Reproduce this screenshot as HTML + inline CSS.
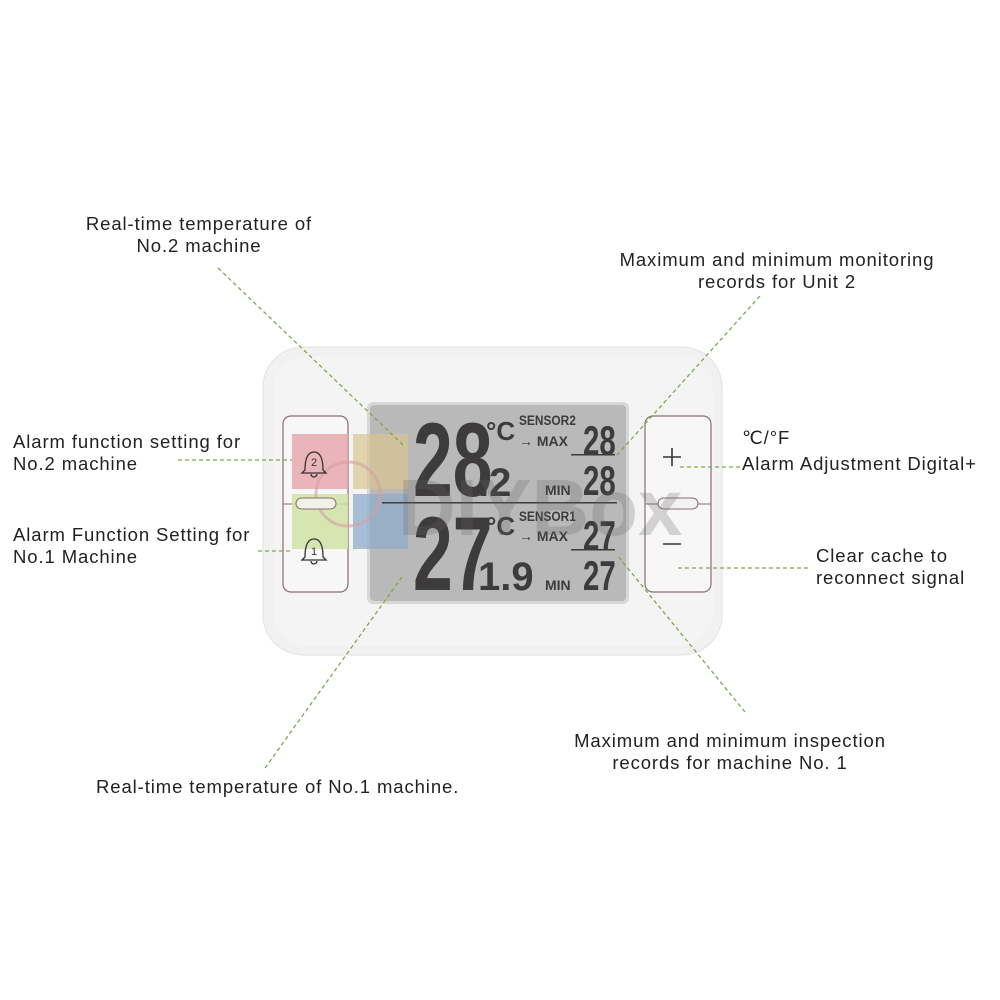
<!DOCTYPE html>
<html><head><meta charset="utf-8"><style>
html,body{margin:0;padding:0;background:#fff;width:1000px;height:1000px;overflow:hidden}
svg{display:block}
text{font-family:"Liberation Sans",sans-serif}
</style></head><body>
<svg width="1000" height="1000" viewBox="0 0 1000 1000">
<!-- device -->
<rect x="263" y="347" width="459" height="308" rx="40" fill="#f1f1f1" stroke="#e2e2e2"/>
<rect x="273" y="356" width="440" height="290" rx="34" fill="#f4f4f4"/>
<!-- buttons -->
<rect x="283" y="416" width="65" height="176" rx="8" fill="#f7f7f7" stroke="#8a6f6f" stroke-width="1.2"/>
<rect x="645" y="416" width="66" height="176" rx="8" fill="#f7f7f7" stroke="#8a6f6f" stroke-width="1.2"/>
<line x1="283" y1="504" x2="348" y2="504" stroke="#8a6f6f"/>
<line x1="645" y1="504" x2="711" y2="504" stroke="#8a6f6f"/>
<!-- LCD -->
<rect x="367" y="402" width="262" height="202" rx="6" fill="#d8d8d8"/>
<rect x="370" y="405" width="256" height="196" rx="4" fill="#b9b9b9"/>
<!-- watermark squares -->
<rect x="292" y="434" width="56" height="55" fill="#e8a8ad" opacity="0.85"/>
<rect x="353" y="434" width="55" height="55" fill="#d9c48e" opacity="0.7"/>
<rect x="292" y="494" width="56" height="55" fill="#cfe3a4" opacity="0.85"/>
<rect x="353" y="494" width="55" height="55" fill="#8eacc9" opacity="0.75"/>
<circle cx="348" cy="494" r="32" fill="none" stroke="#d6a0a0" stroke-width="3" opacity="0.6"/>
<rect x="296" y="498" width="40" height="11" rx="5.5" fill="#f2f2e8" stroke="#8a6f6f"/>
<rect x="658" y="498" width="40" height="11" rx="5.5" fill="#f2f2f2" stroke="#8a6f6f"/>
<!-- LCD digits -->
<g fill="#3d3b3b">
<text x="413" y="496" font-size="105" font-weight="bold" transform="translate(413 0) scale(0.68 1) translate(-413 0)">28</text>
<text x="478" y="496" font-size="40" font-weight="bold">.2</text>
<text x="486" y="440" font-size="26" font-weight="bold">°C</text>
<text x="519" y="425" font-size="14" font-weight="bold" transform="translate(519 0) scale(0.85 1) translate(-519 0)">SENSOR2</text>
<text x="519" y="446" font-size="14" font-weight="bold">→ MAX</text>
<text x="583" y="455" font-size="42" font-weight="bold" transform="translate(583 0) scale(0.7 1) translate(-583 0)">28</text>
<rect x="571" y="454" width="44" height="1.5"/>
<text x="545" y="495" font-size="14" font-weight="bold">MIN</text>
<text x="583" y="495" font-size="42" font-weight="bold" transform="translate(583 0) scale(0.7 1) translate(-583 0)">28</text>
<rect x="382" y="502" width="235" height="1.5"/>
<text x="413" y="590" font-size="105" font-weight="bold" transform="translate(413 0) scale(0.68 1) translate(-413 0)">27</text>
<text x="478" y="590" font-size="40" font-weight="bold">1.9</text>
<text x="486" y="535" font-size="26" font-weight="bold">°C</text>
<text x="519" y="521" font-size="14" font-weight="bold" transform="translate(519 0) scale(0.85 1) translate(-519 0)">SENSOR1</text>
<text x="519" y="541" font-size="14" font-weight="bold">→ MAX</text>
<text x="583" y="550" font-size="42" font-weight="bold" transform="translate(583 0) scale(0.7 1) translate(-583 0)">27</text>
<rect x="571" y="549" width="44" height="1.5"/>
<text x="545" y="590" font-size="14" font-weight="bold">MIN</text>
<text x="583" y="590" font-size="42" font-weight="bold" transform="translate(583 0) scale(0.7 1) translate(-583 0)">27</text>
</g>
<text x="398" y="535" font-size="80" font-weight="bold" fill="#666" opacity="0.25">DIYBox</text>
<!-- bells & +/- -->
<text x="314" y="466" font-size="11" fill="#333" text-anchor="middle">2</text>
<text x="314" y="555" font-size="11" fill="#333" text-anchor="middle">1</text>
<path d="M305 470 q0-18 9-18 q9 0 9 18 l3 3 h-24 z M311 474 a3 3 0 0 0 6 0" fill="none" stroke="#333" stroke-width="1.3"/>
<path d="M305 557 q0-18 9-18 q9 0 9 18 l3 3 h-24 z M311 561 a3 3 0 0 0 6 0" fill="none" stroke="#333" stroke-width="1.3"/>
<path d="M663 457 h18 M672 448 v18" stroke="#333" stroke-width="1.6"/>
<path d="M663 544 h18" stroke="#333" stroke-width="1.6"/>
<!-- connectors -->
<g stroke="#7fa84e" stroke-width="1.3" stroke-dasharray="4 3" fill="none">
<line x1="218" y1="268" x2="403" y2="445"/>
<line x1="760" y1="296" x2="617" y2="455"/>
<line x1="178" y1="460" x2="292" y2="460"/>
<line x1="258" y1="551" x2="292" y2="551"/>
<line x1="680" y1="467" x2="740" y2="467"/>
<line x1="678" y1="568" x2="808" y2="568"/>
<line x1="265" y1="768" x2="402" y2="577"/>
<line x1="745" y1="712" x2="617" y2="555"/>
</g>
<!-- labels -->
<g font-size="18.5" fill="#222" letter-spacing="0.9">
<text x="199" y="230" text-anchor="middle">Real-time temperature of</text>
<text x="199" y="252" text-anchor="middle">No.2 machine</text>
<text x="777" y="266" text-anchor="middle">Maximum and minimum monitoring</text>
<text x="777" y="288" text-anchor="middle">records for Unit 2</text>
<text x="13" y="448">Alarm function setting for</text>
<text x="13" y="470">No.2 machine</text>
<text x="13" y="541">Alarm Function Setting for</text>
<text x="13" y="563">No.1 Machine</text>
<text x="742" y="444">℃/°F</text>
<text x="742" y="470">Alarm Adjustment Digital+</text>
<text x="816" y="562">Clear cache to</text>
<text x="816" y="584">reconnect signal</text>
<text x="730" y="747" text-anchor="middle">Maximum and minimum inspection</text>
<text x="730" y="769" text-anchor="middle">records for machine No. 1</text>
<text x="96" y="793">Real-time temperature of No.1 machine.</text>
</g>
</svg>
</body></html>
